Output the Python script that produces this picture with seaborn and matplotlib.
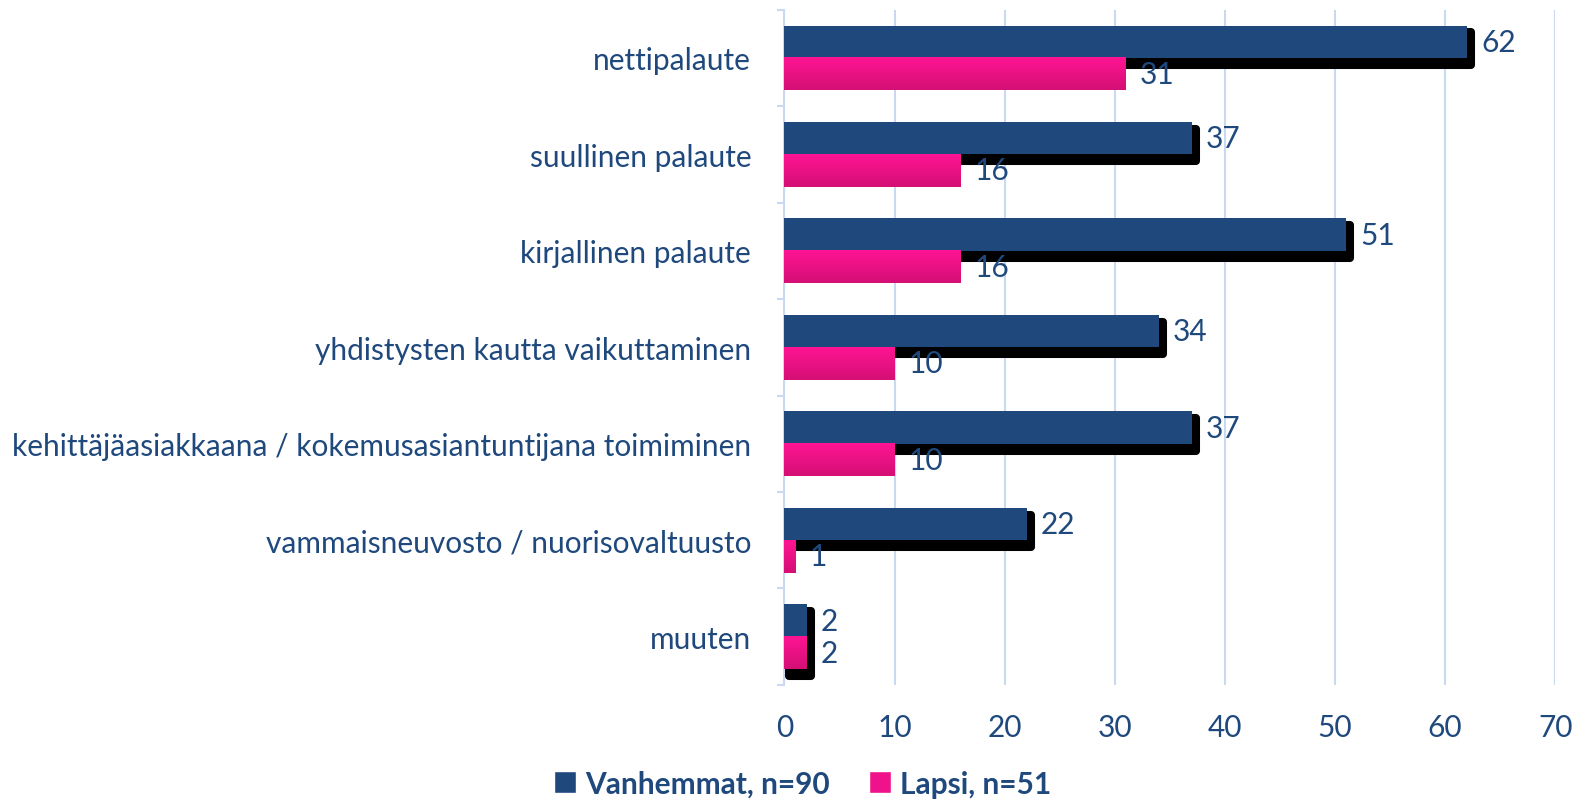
import numpy as np
import pandas as pd
import seaborn as sns
import matplotlib.pyplot as plt
import matplotlib.patheffects as pe
from matplotlib.colors import LinearSegmentedColormap
from matplotlib.patches import Patch

categories = ['nettipalaute', 'suullinen palaute', 'kirjallinen palaute',
              'yhdistysten kautta vaikuttaminen',
              'kehittäjäasiakkaana / kokemusasiantuntijana toimiminen',
              'vammaisneuvosto / nuorisovaltuusto', 'muuten']
vanhemmat = [62, 37, 51, 34, 37, 22, 2]
lapsi = [31, 16, 16, 10, 10, 1, 2]
series = ['Vanhemmat, n=90', 'Lapsi, n=51']
xticks = [0, 10, 20, 30, 40, 50, 60, 70]

blue = '#1f497d'
pink = '#f0128a'
grid_col = '#c9daf0'
fs = 21.5

df = pd.DataFrame({
    'kategoria': categories * 2,
    'arvo': vanhemmat + lapsi,
    'ryhma': [series[0]] * len(categories) + [series[1]] * len(categories),
})

sns.set_theme(style='white')
plt.rcParams['font.family'] = ['Lato', 'DejaVu Sans']

fig = plt.figure(figsize=(15.74, 8.04), dpi=100)
ax = fig.add_axes([0.4984, 0.1468, 0.4897, 0.840])

sns.barplot(data=df, y='kategoria', x='arvo', hue='ryhma', orient='h',
            order=categories, hue_order=series, palette=[blue, pink],
            saturation=1, width=0.67, legend=False, ax=ax, zorder=3,
            linewidth=0, edgecolor='none')

# black drop shadow with rounded corners
shadow = [pe.PathPatchEffect(offset=(2.9, -5), facecolor='black', edgecolor='black',
                             linewidth=5.8, joinstyle='round'), pe.Normal()]
for bar in ax.containers[0]:
    bar.set_path_effects(shadow)
ax.containers[1][len(categories) - 1].set_path_effects(shadow)

# pink gradient
grad = LinearSegmentedColormap.from_list('pk', ['#ff1493', '#d40f75'])
for bar in ax.containers[1]:
    x0, y0 = bar.get_x(), bar.get_y()
    w, h = bar.get_width(), bar.get_height()
    ax.imshow(np.linspace(0, 1, 50).reshape(-1, 1), cmap=grad, aspect='auto',
              extent=[x0, x0 + w, y0 + h, y0], zorder=3.5)

ax.set_xlim(0, 70)
ax.set_ylim(len(categories) - 0.5, -0.5)

for cont in ax.containers:
    ax.bar_label(cont, padding=10, color=blue, fontsize=fs)

ax.set_xticks(xticks)
ax.set_xlabel('')
ax.set_ylabel('')
ax.grid(axis='x', color=grid_col, linewidth=1.5, zorder=0)
ax.set_axisbelow(True)
for s in ['top', 'right', 'bottom']:
    ax.spines[s].set_visible(False)
ax.spines['left'].set_color(grid_col)
ax.spines['left'].set_linewidth(1.5)
ax.set_yticks(np.arange(-0.5, len(categories), 1), minor=True)
ax.tick_params(axis='y', which='major', length=0, pad=24, labelsize=fs, labelcolor=blue)
ax.tick_params(axis='y', which='minor', left=True, length=5, width=1.5, color=grid_col)
ax.tick_params(axis='x', length=0, pad=20, labelsize=fs, labelcolor=blue)

handles = [Patch(facecolor=blue), Patch(facecolor=pink)]
leg = fig.legend(handles, series, loc='center', bbox_to_anchor=(0.51, 0.024), ncol=2,
                 frameon=False, handlelength=0.75, handleheight=0.75, handletextpad=0.3,
                 columnspacing=1.3, prop={'size': fs, 'weight': 'bold'})
for t in leg.get_texts():
    t.set_color(blue)

fig.savefig('out.png', dpi=100)
